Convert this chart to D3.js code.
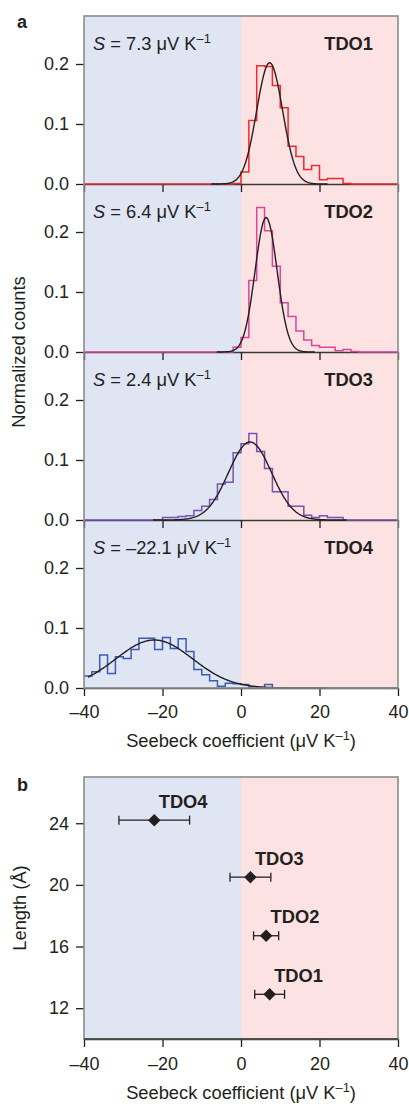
<!DOCTYPE html>
<html>
<head>
<meta charset="utf-8">
<script src="https://cdn.jsdelivr.net/npm/d3@7"></script>
<style>
  body { margin: 0; background: #fff; }
  text { font-family: "Liberation Sans", Arial, sans-serif; fill: #231f20; }
</style>
</head>
<body>
<svg id="chart" width="409" height="1104"></svg>
<script>
// histogram bins are 2 uV/K wide, left edges from -40 to 38
var binStarts = d3.range(-40, 40, 2);
var names = ["TDO1", "TDO2", "TDO3", "TDO4"];
var seebeckText = ["7.3", "6.4", "2.4", "\u201322.1"];

var countsTDO1 = [0, 0, 0, 0, 0, 0, 0, 0, 0, 0,
                  0, 0, 0, 0, 0, 0, 0, 0, 0, 0.001,
                  0.02, 0.106, 0.197, 0.196, 0.164, 0.127, 0.063, 0.046, 0.024, 0.031,
                  0.007, 0.009, 0.009, 0.001, 0, 0, 0, 0, 0, 0];
var countsTDO2 = [0, 0, 0, 0, 0, 0, 0, 0, 0, 0,
                  0, 0, 0, 0, 0, 0, 0, 0, 0, 0.008,
                  0.024, 0.119, 0.241, 0.202, 0.143, 0.082, 0.059, 0.035, 0.02, 0.011,
                  0.008, 0.008, 0.002, 0.004, 0.001, 0, 0, 0, 0, 0];
var countsTDO3 = [0, 0, 0, 0, 0, 0, 0, 0, 0, 0,
                  0.004, 0.004, 0.006, 0.007, 0.016, 0.023, 0.034, 0.06, 0.063, 0.112,
                  0.127, 0.144, 0.114, 0.086, 0.047, 0.047, 0.023, 0.023, 0.008, 0.004,
                  0.007, 0.004, 0.004, 0, 0, 0, 0, 0, 0, 0];
var countsTDO4 = [0.02, 0.027, 0.055, 0.024, 0.052, 0.049, 0.064, 0.083, 0.083, 0.064,
                  0.084, 0.066, 0.082, 0.061, 0.031, 0.022, 0.012, 0.003, 0.008, 0.007,
                  0.006, 0.002, 0.001, 0.006, 0, 0, 0, 0, 0, 0,
                  0, 0, 0, 0, 0, 0, 0, 0, 0, 0];
var allCounts = [countsTDO1, countsTDO2, countsTDO3, countsTDO4];

// gaussian fit parameters
var fitCenter = [7.3, 6.4, 2.3, -22.1];
var fitPeak = [0.202, 0.224, 0.13, 0.08];
var fitSigma = [3.3, 2.8, 5.5, 9.8];

// panel b
var seebeck = [7.3, 6.4, 2.4, -22.1];
var seebeckErr = [3.8, 3.2, 5.2, 9.0];
var lengthA = [12.9, 16.7, 20.5, 24.2];

var histColors = ["#ee2a2e", "#d8469f", "#7a52b3", "#3c5cb2"];
var xTicks = [-40, -20, 0, 20, 40];
var countTicks = [0, 0.1, 0.2];
var lengthTicks = [12, 16, 20, 24];

var FONT = 18.3;
var TICK_FONT = 18;
var left = 84, right = 398;
var aTop = 16, subH = 168;
var bTop = 777, bBottom = 1039;

var svg = d3.select("#chart");
var x = d3.scaleLinear().domain([-40, 40]).range([left, right]);

function dashFormat(d) {
    return d < 0 ? "\u2013" + Math.abs(d) : String(d);
}

function drawBackground(top, bottom) {
    svg.append("rect").attr("x", x(-40)).attr("y", top)
        .attr("width", x(0) - x(-40)).attr("height", bottom - top).attr("fill", "#dfe5f3");
    svg.append("rect").attr("x", x(0)).attr("y", top)
        .attr("width", x(40) - x(0)).attr("height", bottom - top).attr("fill", "#fce2e2");
}

function drawFrame(top, bottom) {
    svg.append("rect").attr("x", left).attr("y", top)
        .attr("width", right - left).attr("height", bottom - top)
        .attr("fill", "none").attr("stroke", "#8c8c8c").attr("stroke-width", 1.6);
}

function styleAxis(g) {
    g.selectAll(".tick line").attr("stroke", "#231f20").attr("stroke-width", 1.3);
    g.selectAll(".tick text").attr("font-size", TICK_FONT).attr("font-family", null);
    g.select(".domain").attr("stroke", "#3a3a3a").attr("stroke-width", 1.6);
}

function addUnitLabel(sel) {
    // "(μV K–1)" with superscript
    sel.append("tspan").text("\u03bcV K");
    sel.append("tspan").attr("font-size", FONT * 0.7).attr("dy", "-0.55em").text("\u20131");
    sel.append("tspan").attr("dy", "0.38em").text(")");
}

// ---- panel a ----
drawBackground(aTop, aTop + subH * 4);

allCounts.forEach(function (counts, i) {
    var top = aTop + subH * i;
    var y = d3.scaleLinear().domain([0, 0.28]).range([top + subH, top]);

    var pts = binStarts.map(function (b, k) { return [b, counts[k]]; });
    pts.push([40, counts[counts.length - 1]]);

    var step = d3.line()
        .x(function (d) { return x(d[0]); })
        .y(function (d) { return y(d[1]); })
        .curve(d3.curveStepAfter);

    // bottom axis of each sub-panel
    var xa = svg.append("g")
        .attr("transform", "translate(0," + (top + subH) + ")")
        .call(d3.axisBottom(x).tickValues(xTicks).tickSize(8).tickSizeOuter(0)
            .tickPadding(9).tickFormat(i === 3 ? dashFormat : ""));
    styleAxis(xa);

    svg.append("path").datum(pts)
        .attr("d", step)
        .attr("fill", "none")
        .attr("stroke", histColors[i])
        .attr("stroke-width", 1.5);

    var lo = Math.max(-39, fitCenter[i] - 4.5 * fitSigma[i]);
    var hi = Math.min(39, fitCenter[i] + 4.5 * fitSigma[i]);
    var fitPts = d3.range(lo, hi, 0.2).map(function (v) {
        var z = (v - fitCenter[i]) / fitSigma[i];
        return [v, fitPeak[i] * Math.exp(-0.5 * z * z)];
    });
    svg.append("path").datum(fitPts)
        .attr("d", d3.line().x(function (d) { return x(d[0]); }).y(function (d) { return y(d[1]); }))
        .attr("fill", "none")
        .attr("stroke", "#231f20")
        .attr("stroke-width", 1.4);

    var ya = svg.append("g")
        .attr("transform", "translate(" + left + ",0)")
        .call(d3.axisLeft(y).tickValues(countTicks).tickSize(8).tickSizeOuter(0)
            .tickPadding(7).tickFormat(d3.format(".1f")));
    styleAxis(ya);
    ya.select(".domain").remove();

    var ann = svg.append("text")
        .attr("x", 93).attr("y", top + 34)
        .attr("font-size", FONT);
    ann.append("tspan").attr("font-style", "italic").text("S");
    ann.append("tspan").text(" = " + seebeckText[i] + " \u03bcV K");
    ann.append("tspan").attr("font-size", FONT * 0.7).attr("dy", "-0.55em").text("\u20131");

    svg.append("text")
        .attr("x", 373).attr("y", top + 34)
        .attr("text-anchor", "end")
        .attr("font-size", FONT)
        .attr("font-weight", "bold")
        .text(names[i]);
});

drawFrame(aTop, aTop + subH * 4);

svg.append("text").attr("x", 17).attr("y", 28)
    .attr("font-size", 18).attr("font-weight", "bold").text("a");

var xlabA = svg.append("text")
    .attr("x", (left + right) / 2).attr("y", 747)
    .attr("text-anchor", "middle").attr("font-size", FONT)
    .text("Seebeck coefficient (");
addUnitLabel(xlabA);

svg.append("text")
    .attr("transform", "translate(25," + (aTop + subH * 2) + ") rotate(-90)")
    .attr("text-anchor", "middle").attr("font-size", FONT)
    .text("Normalized counts");

// ---- panel b ----
drawBackground(bTop, bBottom);
var yb = d3.scaleLinear().domain([10, 27]).range([bBottom, bTop]);

var xb = svg.append("g")
    .attr("transform", "translate(0," + bBottom + ")")
    .call(d3.axisBottom(x).tickValues(xTicks).tickSize(8).tickSizeOuter(0)
        .tickPadding(10).tickFormat(dashFormat));
styleAxis(xb);

var ybAxis = svg.append("g")
    .attr("transform", "translate(" + left + ",0)")
    .call(d3.axisLeft(yb).tickValues(lengthTicks).tickSize(8).tickSizeOuter(0).tickPadding(7));
styleAxis(ybAxis);
ybAxis.select(".domain").remove();

drawFrame(bTop, bBottom);
svg.append("line").attr("x1", left).attr("x2", right)
    .attr("y1", bBottom).attr("y2", bBottom)
    .attr("stroke", "#3a3a3a").attr("stroke-width", 1.6);

var pointsG = svg.append("g");
names.forEach(function (n, i) {
    var cx = x(seebeck[i]), cy = yb(lengthA[i]);
    var x0 = x(seebeck[i] - seebeckErr[i]), x1 = x(seebeck[i] + seebeckErr[i]);
    pointsG.append("line").attr("x1", x0).attr("x2", x1).attr("y1", cy).attr("y2", cy)
        .attr("stroke", "#231f20").attr("stroke-width", 1.3);
    [x0, x1].forEach(function (ex) {
        pointsG.append("line").attr("x1", ex).attr("x2", ex)
            .attr("y1", cy - 4.5).attr("y2", cy + 4.5)
            .attr("stroke", "#231f20").attr("stroke-width", 1.3);
    });
    pointsG.append("path")
        .attr("d", d3.symbol(d3.symbolSquare, 78)())
        .attr("transform", "translate(" + cx + "," + cy + ") rotate(45)")
        .attr("fill", "#231f20");
    pointsG.append("text")
        .attr("x", cx + 4.5).attr("y", cy - 12.5)
        .attr("font-size", FONT).attr("font-weight", "bold")
        .text(n);
});

svg.append("text").attr("x", 17).attr("y", 791)
    .attr("font-size", 18).attr("font-weight", "bold").text("b");

var xlabB = svg.append("text")
    .attr("x", (left + right) / 2).attr("y", 1099)
    .attr("text-anchor", "middle").attr("font-size", FONT)
    .text("Seebeck coefficient (");
addUnitLabel(xlabB);

svg.append("text")
    .attr("transform", "translate(26," + ((bTop + bBottom) / 2) + ") rotate(-90)")
    .attr("text-anchor", "middle").attr("font-size", FONT)
    .text("Length (\u00c5)");
</script>
</body>
</html>
